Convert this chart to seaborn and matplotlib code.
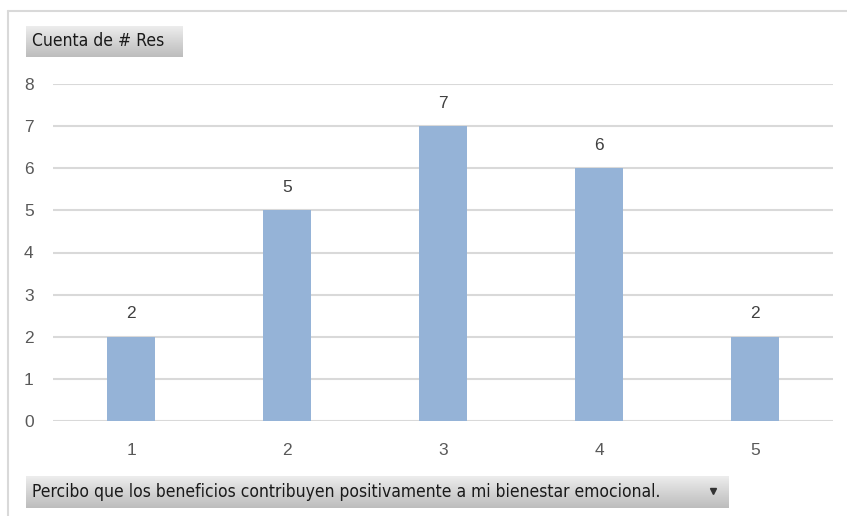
import matplotlib
matplotlib.use("Agg")
import matplotlib.pyplot as plt
import numpy as np
import pandas as pd
import seaborn as sns

# Likert answers and how many responses each one got
categories = ["1", "2", "3", "4", "5"]
counts = [2, 5, 7, 6, 2]
y_ticks = [0, 1, 2, 3, 4, 5, 6, 7, 8]
value_title = "Cuenta de # Res"
field_title = "Percibo que los beneficios contribuyen positivamente a mi bienestar emocional."

sns.set_theme(style="white")
plt.rcParams["font.family"] = ["Liberation Sans", "DejaVu Sans"]

df = pd.DataFrame({"respuesta": categories, "cuenta": counts})

fig = plt.figure(figsize=(8.47, 5.16), dpi=100)
W, H = 847, 516

ax = fig.add_axes([53 / W, 1 - 421 / H, 780 / W, 337 / H])
sns.barplot(data=df, x="respuesta", y="cuenta", color="#95b3d7", width=0.31,
            saturation=1, linewidth=0, edgecolor="none", ax=ax, zorder=3)

ax.set_ylim(0, 8)
ax.set_yticks(y_ticks)
ax.yaxis.grid(True, color="#d9d9d9", linewidth=1.5, zorder=0)
ax.set_axisbelow(True)
for s in ax.spines.values():
    s.set_visible(False)
ax.tick_params(axis="both", length=0, labelsize=12.5, labelcolor="#595959")
ax.tick_params(axis="y", pad=14)
ax.tick_params(axis="x", pad=16)
ax.set_xlabel("")
ax.set_ylabel("")

for i, v in enumerate(counts):
    ax.annotate(str(v), (i, v), xytext=(0, 11), textcoords="offset points",
                ha="center", va="bottom", fontsize=12.5, color="#404040")

# outer chart frame
frame_color = "#d9d9d9"
fig.add_artist(plt.Line2D([8 / W, 8 / W], [0, 1 - 11 / H], color=frame_color,
                          linewidth=1.5, transform=fig.transFigure))
fig.add_artist(plt.Line2D([8 / W, 1], [1 - 11 / H, 1 - 11 / H], color=frame_color,
                          linewidth=1.5, transform=fig.transFigure))

# pivot field buttons with a soft gray gradient
btn_cmap = matplotlib.colors.LinearSegmentedColormap.from_list(
    "btn", ["#ededed", "#d4d4d4", "#bdbdbd"])


def field_button(x0, y0, x1, y1, text, arrow=False):
    grad = np.linspace(0, 1, 64).reshape(-1, 1)
    bax = fig.add_axes([x0 / W, 1 - y1 / H, (x1 - x0) / W, (y1 - y0) / H])
    bax.imshow(grad, aspect="auto", cmap=btn_cmap, extent=[0, 1, 0, 1], origin="upper")
    bax.set_xlim(0, 1)
    bax.set_ylim(0, 1)
    bax.set_xticks([])
    bax.set_yticks([])
    for s in bax.spines.values():
        s.set_visible(False)
    bax.text(6 / (x1 - x0), 0.5, text, ha="left", va="center", fontsize=12.5,
             color="#1a1a1a", family="DejaVu Sans", fontstretch="condensed",
             transform=bax.transAxes)
    if arrow:
        ax_w = x1 - x0
        bax.plot([(ax_w - 15) / ax_w], [0.52], marker="v", markersize=4.5,
                 color="#333333", transform=bax.transAxes)
    return bax


field_button(26, 26, 183, 57, value_title)
field_button(26, 476, 728, 508, field_title, arrow=True)

fig.savefig("out.png", dpi=100, facecolor="white")
